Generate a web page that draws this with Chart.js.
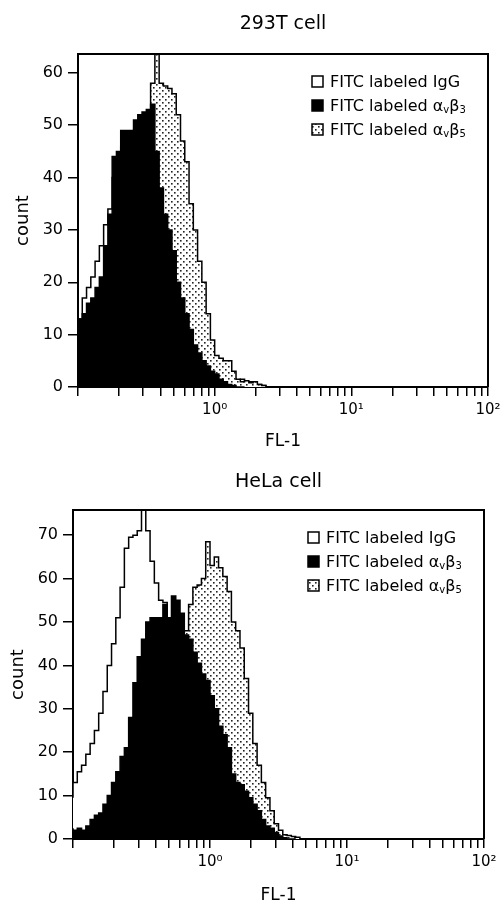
<!DOCTYPE html>
<html lang="en">
<head>
<meta charset="UTF-8">
<title>FL-1 histograms: 293T and HeLa cells</title>
<script src="https://cdn.jsdelivr.net/npm/chart.js@4"></script>
<style>
  body { margin: 0; background: #fff; }
  .panel { position: absolute; left: 0; width: 503px; height: 453px; }
</style>
</head>
<body>
<div class="panel" style="top:0"><canvas id="cells293" width="503" height="453"></canvas></div>
<div class="panel" style="top:453px"><canvas id="cellsHela" width="503" height="453"></canvas></div>
<script>
// FL-1 channels: 32 channels per decade, first channel starts at 10^-1
const channelsPerDecade = 32;
const firstChannel = 0.1;

// 293T cell, counts per channel
const igg293 = [16, 13, 17, 19, 21, 24, 27, 31, 34, 40, 43, 46, 47, 48, 49, 50, 50, 50, 49, 46,
  42, 37, 32, 27, 22, 17, 13, 10, 7, 5.5, 4.5, 3.5, 3, 2.5, 2, 2, 1.5, 1.5, 1, 1.5, 1, 1, 0.5, 0.5, 0.3, 0];
const b3_293 = [13, 13, 14, 16, 17, 19, 21, 27, 33, 44, 45, 49, 49, 49, 51, 52, 52.5, 53, 54, 45,
  38, 33, 30, 26, 20, 17, 14, 11, 8, 6.5, 5, 4, 3, 2.5, 1.5, 1, 0.5, 0.3, 0];
const b5_293 = [1, 1, 1.5, 2, 3, 4, 5, 7, 9, 12, 15, 19, 24, 29, 34, 40, 45, 50, 58, 66,
  58, 57.5, 57, 56, 52, 47, 43, 35, 30, 24, 20, 14, 9, 6, 5.5, 5, 5, 3, 1.5, 1, 1.2, 0.8, 1, 0.5, 0.3, 0];

// HeLa cell, counts per channel
const iggHela = [9.5, 13, 15.5, 17, 19.5, 22, 25, 29, 34, 40, 45, 51, 58, 67, 69.5, 70, 71, 76, 71, 64,
  59, 55, 54.5, 50, 47, 44, 40, 36, 32, 28, 24, 20, 17, 14, 11, 9, 7, 5, 4, 3, 2, 1.5, 1, 0.5, 0];
const b3Hela = [2.5, 2, 2.5, 2, 3, 4.5, 5.5, 6, 8, 10, 13, 15.5, 19, 21, 28, 36, 42, 46, 50, 51,
  51, 51, 54, 51, 56, 55, 52, 47, 46, 43, 40.5, 38, 36.5, 33, 30, 26, 24, 21, 15, 13,
  12.5, 11, 9.5, 8, 6.5, 4.5, 3, 2.5, 1.5, 0.7, 0.3, 0];
const b5Hela = [0.5, 0.5, 0.5, 0.5, 0.5, 0.5, 0.5, 0.5, 1, 2, 3, 4, 6, 8, 10, 13, 16, 19, 22, 26,
  30, 33, 36, 39, 42, 45, 47, 48, 54, 58, 58.5, 60, 68.5, 63, 65, 62.5, 60.5, 57, 50, 48,
  44, 37, 29, 22, 17, 13, 9.5, 6.5, 3.5, 2, 1, 0.8, 0.6, 0.4, 0];

const seriesLabels = ['FITC labeled IgG', 'FITC labeled αvβ3', 'FITC labeled αvβ5'];
// legend text pieces: [text, isSubscript]
const legendParts = [
  [['FITC labeled IgG', 0]],
  [['FITC labeled α', 0], ['v', 1], ['β', 0], ['3', 1]],
  [['FITC labeled α', 0], ['v', 1], ['β', 0], ['5', 1]]
];
const xTickValues = [0.1, 0.2, 0.3, 0.4, 0.5, 0.6, 0.7, 0.8, 0.9, 1, 2, 3, 4, 5, 6, 7, 8, 9,
  10, 20, 30, 40, 50, 60, 70, 80, 90, 100];
const xMajorTicks = [1, 10, 100];
const xMajorLabels = ['10⁰', '10¹', '10²'];

const FONT = '"DejaVu Sans", sans-serif';

function toPoints(counts) {
  const pts = counts.map((c, i) => ({ x: firstChannel * Math.pow(10, i / channelsPerDecade), y: c }));
  pts.push({ x: firstChannel * Math.pow(10, counts.length / channelsPerDecade), y: 0 });
  return pts;
}

function dotPattern(ctx) {
  const c = document.createElement('canvas');
  c.width = 6; c.height = 6;
  const g = c.getContext('2d');
  g.fillStyle = '#fff';
  g.fillRect(0, 0, 6, 6);
  g.fillStyle = '#222';
  g.fillRect(0, 0, 1.6, 1.6);
  g.fillRect(3, 3, 1.6, 1.6);
  return ctx.createPattern(c, 'repeat');
}

const panelDeco = {
  id: 'panelDeco',
  afterDraw(chart, args, opts) {
    const { ctx, chartArea: a } = chart;
    ctx.save();
    ctx.strokeStyle = '#000';
    ctx.lineWidth = 2;
    ctx.beginPath();
    ctx.moveTo(a.left, a.top);
    ctx.lineTo(a.right, a.top);
    ctx.lineTo(a.right, a.bottom);
    ctx.stroke();

    ctx.fillStyle = '#000';
    ctx.font = '19px ' + FONT;
    ctx.textAlign = 'center';
    ctx.textBaseline = 'middle';
    ctx.fillText(opts.title, (a.left + a.right) / 2, opts.titleY);

    // legend inside the plot, top right
    const ds = chart.data.datasets;
    ctx.textAlign = 'left';
    ctx.textBaseline = 'alphabetic';
    legendParts.forEach((parts, k) => {
      const bx = a.right - 176, cy = a.top + 28 + k * 24;
      ctx.fillStyle = ds[k].backgroundColor;
      ctx.fillRect(bx, cy - 6, 11, 11);
      ctx.lineWidth = 1.5;
      ctx.strokeStyle = '#000';
      ctx.strokeRect(bx, cy - 6, 11, 11);
      ctx.fillStyle = '#000';
      let tx = bx + 18;
      parts.forEach(([t, sub]) => {
        ctx.font = (sub ? '10px ' : '16px ') + FONT;
        ctx.fillText(t, tx, cy + 5 + (sub ? 2 : 0));
        tx += ctx.measureText(t).width;
      });
    });
    ctx.restore();
  }
};

function makeChart(id, counts, cfg) {
  const ctx = document.getElementById(id).getContext('2d');
  const dots = dotPattern(ctx);
  return new Chart(ctx, {
    type: 'line',
    data: {
      datasets: [
        { label: seriesLabels[0], data: toPoints(counts[0]), order: 2,
          backgroundColor: '#fff', borderColor: '#000', borderWidth: 1.5, fill: 'origin' },
        { label: seriesLabels[1], data: toPoints(counts[1]), order: 0,
          backgroundColor: '#000', borderColor: '#000', borderWidth: 1.5, fill: 'origin' },
        { label: seriesLabels[2], data: toPoints(counts[2]), order: 1,
          backgroundColor: dots, borderColor: '#000', borderWidth: 1.5, fill: 'origin' }
      ]
    },
    options: {
      responsive: false,
      animation: false,
      layout: { padding: { left: 0, top: cfg.top, right: cfg.right, bottom: 0 } },
      elements: { point: { radius: 0 }, line: { stepped: 'after', tension: 0 } },
      plugins: {
        legend: { display: false },
        tooltip: { enabled: false },
        panelDeco: { title: cfg.title, titleY: cfg.titleY }
      },
      scales: {
        x: {
          type: 'logarithmic',
          min: 0.1,
          max: 100,
          afterBuildTicks(s) { s.ticks = xTickValues.map(v => ({ value: v })); },
          afterFit(s) { s.height = cfg.xHeight; s.paddingLeft = 0; s.paddingRight = 0; },
          ticks: {
            autoSkip: false, maxRotation: 0, color: '#000', padding: 5,
            font: { family: FONT, size: 15 },
            callback(v) {
              const k = xMajorTicks.findIndex(m => Math.abs(m - v) < 1e-9 * m);
              return k < 0 ? '' : xMajorLabels[k];
            }
          },
          grid: { drawOnChartArea: false, tickLength: 9, color: '#000', lineWidth: 1.5 },
          border: { color: '#000', width: 2 },
          title: { display: true, text: 'FL-1', color: '#000',
            font: { family: FONT, size: 17 }, padding: { top: 0, bottom: cfg.xTitlePad } }
        },
        y: {
          min: 0,
          max: cfg.yMax,
          afterBuildTicks(s) { s.ticks = s.ticks.filter(t => t.value % 10 === 0); },
          afterFit(s) { s.width = cfg.yWidth; },
          ticks: { stepSize: 10, color: '#000', padding: 5, font: { family: FONT, size: 16 } },
          grid: { drawOnChartArea: false, tickLength: 10, color: '#000', lineWidth: 1.5 },
          border: { color: '#000', width: 2 },
          title: { display: true, text: 'count', color: '#000',
            font: { family: FONT, size: 18 }, padding: { top: cfg.yTitlePad, bottom: 0 } }
        }
      }
    },
    plugins: [panelDeco]
  });
}

makeChart('cells293', [igg293, b3_293, b5_293], {
  title: '293T cell', titleY: 24, top: 54, right: 15, yMax: 63.6,
  yWidth: 78, xHeight: 66, xTitlePad: 1, yTitlePad: 13
});
makeChart('cellsHela', [iggHela, b3Hela, b5Hela], {
  title: 'HeLa cell', titleY: 29, top: 57, right: 19, yMax: 75.8,
  yWidth: 73, xHeight: 67, xTitlePad: 0, yTitlePad: 8
});
</script>
</body>
</html>
